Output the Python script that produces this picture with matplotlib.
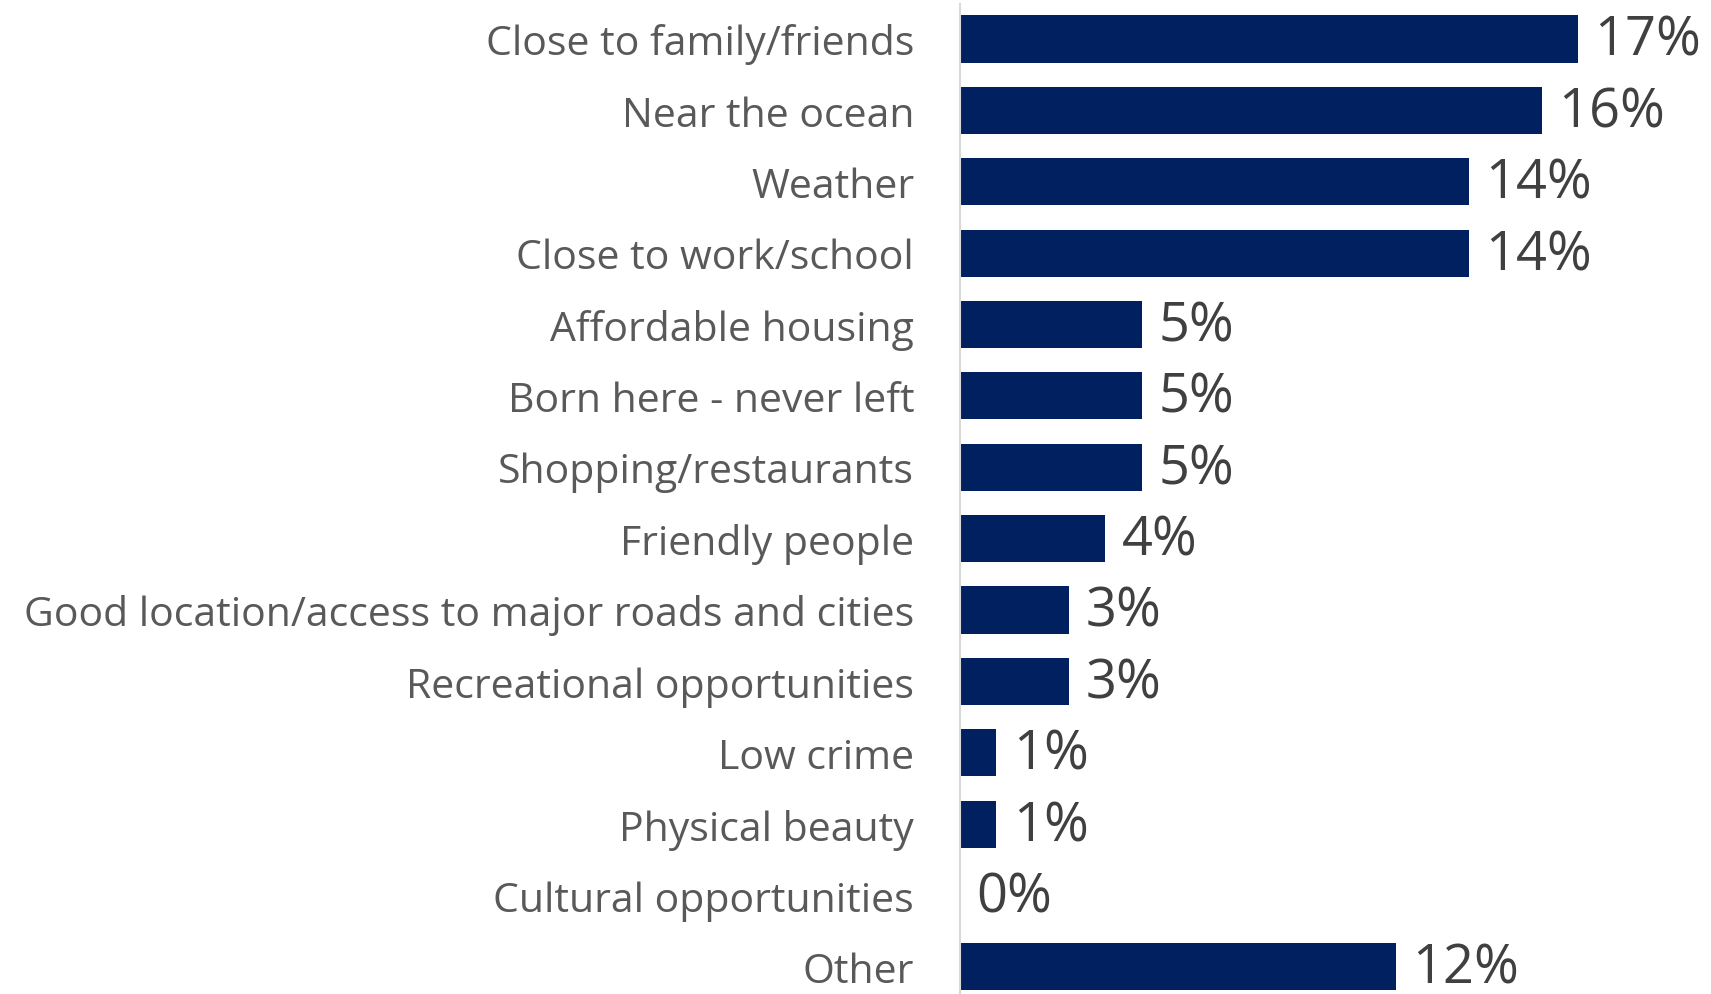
import matplotlib
matplotlib.use("Agg")
import matplotlib.pyplot as plt

# reasons for living here, top to bottom
categories = [
    "Close to family/friends",
    "Near the ocean",
    "Weather",
    "Close to work/school",
    "Affordable housing",
    "Born here - never left",
    "Shopping/restaurants",
    "Friendly people",
    "Good location/access to major roads and cities",
    "Recreational opportunities",
    "Low crime",
    "Physical beauty",
    "Cultural opportunities",
    "Other",
]
values = [17, 16, 14, 14, 5, 5, 5, 4, 3, 3, 1, 1, 0, 12]

BAR = "#002060"
LABEL = "#595959"
VALUE = "#404040"

plt.rcParams["font.family"] = ["Open Sans", "DejaVu Sans"]

fig = plt.figure(figsize=(17.11, 9.95), dpi=100)
ax = fig.add_axes([960 / 1711, 0.0, 1 - 960 / 1711, 1 - 5 / 995])

ypos = list(range(len(categories)))
ax.barh(ypos, values, height=0.66, color=BAR)

for y, v in zip(ypos, values):
    ax.text(v + 0.45, y + 0.02, f"{v}%", va="center", ha="left",
            fontsize=39, color=VALUE)

ax.set_xlim(0, 20.66)
ax.set_ylim(13.38, -0.49)
ax.set_yticks(ypos)
ax.set_yticklabels(categories, fontsize=29.5, color=LABEL)
ax.tick_params(axis="y", length=0, pad=33)
ax.set_xticks([])

for s in ["top", "right", "bottom"]:
    ax.spines[s].set_visible(False)
ax.spines["left"].set_color("#D9D9D9")
ax.spines["left"].set_linewidth(1.5)

fig.savefig("out.png", dpi=100)
